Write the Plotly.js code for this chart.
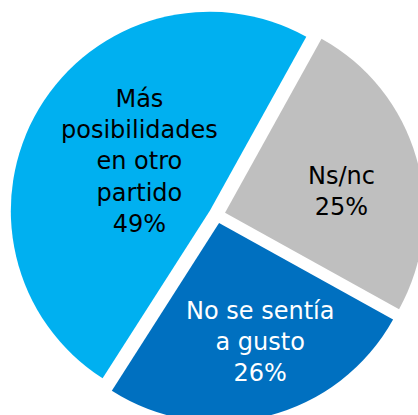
<!DOCTYPE html>
<html>
<head>
<meta charset="utf-8">
<script src="https://cdn.plot.ly/plotly-3.0.1.min.js"></script>
<style>
  html, body { margin: 0; padding: 0; overflow: hidden; background: #fff; }
  #chart { width: 434px; height: 430px; }
</style>
</head>
<body>
<div id="chart"></div>
<script>
// Data
var labels = ["Ns/nc", "No se sentía<br>a gusto", "Más<br>posibilidades<br>en otro<br>partido"];
var values = [25, 26, 49];
var sliceColors = ["#BFBFBF", "#0070C0", "#00B0F0"];
var textColors = ["#000000", "#FFFFFF", "#000000"];

// Label placement (paper coordinates)
var labelPos = [[0.788, 0.5535], [0.6002, 0.2058], [0.3203, 0.6233]];

var W = 434, H = 430;
var pull = 0.042;

var trace = {
  type: "pie",
  labels: labels,
  values: values,
  sort: false,
  direction: "clockwise",
  rotation: 29,
  pull: pull,
  marker: { colors: sliceColors, line: { width: 0 } },
  textinfo: "none",
  hoverinfo: "label+percent",
  domain: { x: [0.0222, 0.9778], y: [0.0178, 0.9822] },
  showlegend: false
};

var annotations = labels.map(function (lab, i) {
  return {
    xref: "paper", yref: "paper",
    x: labelPos[i][0], y: labelPos[i][1],
    xanchor: "center", yanchor: "middle",
    text: lab + "<br>" + values[i] + "%",
    showarrow: false,
    align: "center",
    font: { family: "DejaVu Sans", size: 24, color: textColors[i] }
  };
});

var layout = {
  width: W, height: H,
  margin: { l: 0, r: 0, t: 0, b: 0, pad: 0 },
  paper_bgcolor: "#ffffff",
  showlegend: false,
  annotations: annotations
};

Plotly.newPlot("chart", [trace], layout, { displayModeBar: false, staticPlot: true });
</script>
</body>
</html>
